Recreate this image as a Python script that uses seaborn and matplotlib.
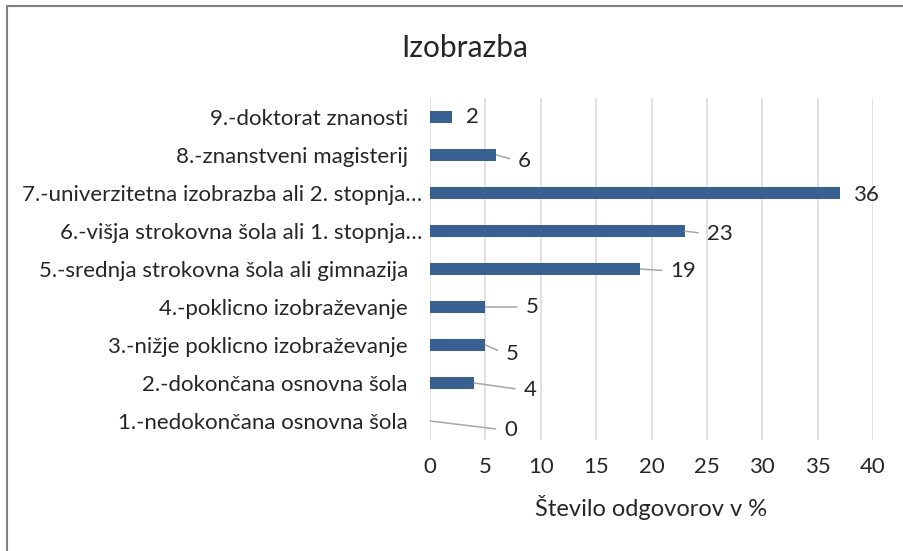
import matplotlib
matplotlib.use('Agg')
import matplotlib.pyplot as plt
from matplotlib.lines import Line2D
import seaborn as sns
import pandas as pd

# Data (top to bottom as shown in the chart)
categories = [
    '9.-doktorat znanosti',
    '8.-znanstveni magisterij',
    '7.-univerzitetna izobrazba ali 2. stopnja…',
    '6.-višja strokovna šola ali 1. stopnja…',
    '5.-srednja strokovna šola ali gimnazija',
    '4.-poklicno izobraževanje',
    '3.-nižje poklicno izobraževanje',
    '2.-dokončana osnovna šola',
    '1.-nedokončana osnovna šola',
]
values = [2, 6, 37, 23, 19, 5, 5, 4, 0]
value_labels = ['2', '6', '36', '23', '19', '5', '5', '4', '0']
x_ticks = [0, 5, 10, 15, 20, 25, 30, 35, 40]

# label placement (pixels right / down from bar end) and whether a leader line is drawn
label_offsets = [(20, 0), (28, 6), (26, 2), (35, 3), (43, 2), (47, 0), (27, 9), (56, 7), (81, 9)]
show_leader = [False, True, False, True, True, True, True, True, True]

df = pd.DataFrame({'kategorija': categories, 'vrednost': values})

sns.set_style('white')
plt.rcParams['font.family'] = ['Lato', 'DejaVu Sans']

fig = plt.figure(figsize=(9.04, 5.51), dpi=100)
ax = fig.add_axes([430 / 904, 1 - 440 / 551, 443 / 904, 342 / 551])

sns.barplot(data=df, y='kategorija', x='vrednost', orient='h', color='#386192',
            width=0.34, ax=ax, saturation=1, linewidth=0)

ax.set_xlim(0, 40)
ax.set_xticks(x_ticks)
ax.grid(axis='x', color='#d9d9d9', linewidth=1.1)
ax.set_axisbelow(True)
for s in ax.spines.values():
    s.set_visible(False)
ax.tick_params(axis='both', length=0, labelsize=16, colors='#262626')
ax.tick_params(axis='y', pad=16)
ax.tick_params(axis='x', pad=12)
ax.set_ylabel('')
ax.set_xlabel('Število odgovorov v %', fontsize=17, color='#262626', labelpad=13)

# the two truncated labels sit a bit further right in the original
for lab in ax.get_yticklabels():
    if lab.get_text().endswith('…'):
        lab.set_x(0.032)

# data labels with leader lines
for i, (v, t) in enumerate(zip(values, value_labels)):
    dx, dy = label_offsets[i]
    props = None
    if show_leader[i]:
        props = dict(arrowstyle='-', color='#a6a6a6', lw=1.1, shrinkA=4, shrinkB=0,
                     relpos=(0, 0.5))
    ax.annotate(t, xy=(v, i), xytext=(dx, -dy), textcoords='offset pixels',
                ha='center', va='center', fontsize=16, color='#262626',
                arrowprops=props)

fig.text(465 / 904, 1 - 48 / 551, 'Izobrazba', ha='center', va='center',
         fontsize=21.5, color='#262626')

# chart area border (only top and left edges visible)
fig.add_artist(Line2D([7 / 904, 7 / 904], [0, 1 - 6 / 551], color='#7f7f7f', lw=1.5,
                      transform=fig.transFigure))
fig.add_artist(Line2D([7 / 904, 1], [1 - 6 / 551, 1 - 6 / 551], color='#7f7f7f', lw=1.5,
                      transform=fig.transFigure))

fig.savefig('out.png', dpi=100)
